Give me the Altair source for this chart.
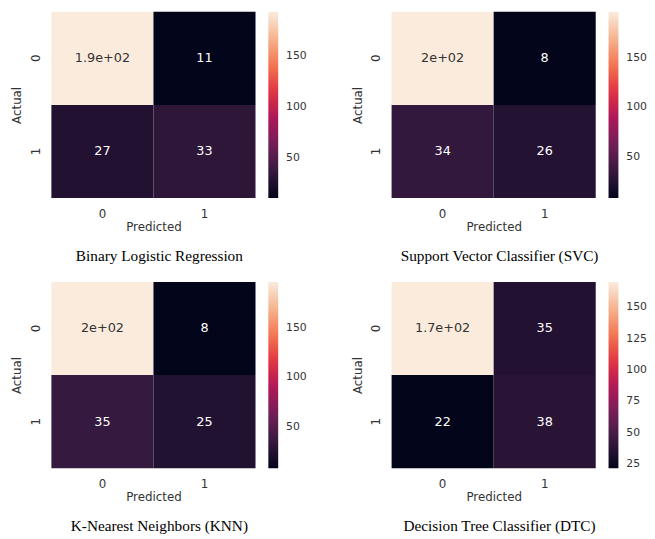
import altair as alt
import pandas as pd

models = [
    "Binary Logistic Regression",
    "Support Vector Classifier (SVC)",
    "K-Nearest Neighbors (KNN)",
    "Decision Tree Classifier (DTC)",
]
actual = ["0", "0", "1", "1"]
predicted = ["0", "1", "0", "1"]
lr_values = [194, 11, 27, 33]
svc_values = [197, 8, 34, 26]
knn_values = [197, 8, 35, 25]
dtc_values = [170, 35, 22, 38]
ticks_default = [50, 100, 150]
ticks_dtc = [25, 50, 75, 100, 125, 150]

ROCKET = ["#03051a", "#35193e", "#701f57", "#ad1759",
          "#e13342", "#f37651", "#f6b48f", "#faebdd"]

TXT = "#333333"
SANS = "DejaVu Sans"


def panel(title, values, ticks):
    vmin, vmax = min(values), max(values)
    n = len(ROCKET)
    domain = [vmin + (vmax - vmin) * i / (n - 1) for i in range(n)]
    df = pd.DataFrame({
        "Actual": actual,
        "Predicted": predicted,
        "value": values,
        "label": [format(v, ".2g") for v in values],
    })
    thr = vmin + 0.6 * (vmax - vmin)
    base = alt.Chart(df).encode(
        x=alt.X("Predicted:N", sort=["0", "1"],
                axis=alt.Axis(title="Predicted", labelAngle=0, ticks=False,
                              domain=False, labelPadding=11, titlePadding=2,
                              labelFont=SANS, titleFont=SANS,
                              labelFontSize=12, titleFontSize=12,
                              labelColor=TXT, titleColor=TXT,
                              titleFontWeight="normal")),
        y=alt.Y("Actual:N", sort=["0", "1"],
                axis=alt.Axis(title="Actual", labelAngle=-90, ticks=False,
                              domain=False, labelPadding=9, titlePadding=6,
                              labelAlign="center", labelBaseline="bottom",
                              labelFont=SANS, titleFont=SANS,
                              labelFontSize=12, titleFontSize=12,
                              labelColor=TXT, titleColor=TXT,
                              titleFontWeight="normal")),
    )
    rect = base.mark_rect(strokeWidth=0).encode(
        color=alt.Color("value:Q",
                        scale=alt.Scale(domain=domain, range=ROCKET,
                                        interpolate="rgb"),
                        legend=alt.Legend(title=None, values=ticks,
                                          direction="vertical",
                                          gradientLength=189,
                                          gradientThickness=10,
                                          offset=13, labelOffset=8,
                                          labelFontSize=11, labelFont=SANS,
                                          labelColor=TXT,
                                          gradientStrokeWidth=0))
    )
    text = base.mark_text(fontSize=13, font=SANS).encode(
        text="label:N",
        color=alt.condition(alt.datum.value > thr, alt.value(TXT),
                            alt.value("white")),
    )
    return alt.layer(rect, text).properties(
        width=207, height=189,
        title=alt.TitleParams(title, orient="bottom", font="Liberation Serif",
                              fontSize=15.5, fontWeight="normal",
                              color="black", offset=17, anchor="middle",
                              dx=6),
    )


p1 = panel(models[0], lr_values, ticks_default)
p2 = panel(models[1], svc_values, ticks_default)
p3 = panel(models[2], knn_values, ticks_default)
p4 = panel(models[3], dtc_values, ticks_dtc)

row1 = alt.hconcat(p1, p2, spacing=45).resolve_scale(color="independent")
row2 = alt.hconcat(p3, p4, spacing=45).resolve_scale(color="independent")

chart = alt.vconcat(row1, row2, spacing=17).resolve_scale(
    color="independent"
).properties(
    padding={"left": 3, "top": 0, "right": 0, "bottom": 0},
    background="white",
).configure_view(stroke=None)

chart.save("out.html", embed_options={"renderer": "svg", "actions": False})
